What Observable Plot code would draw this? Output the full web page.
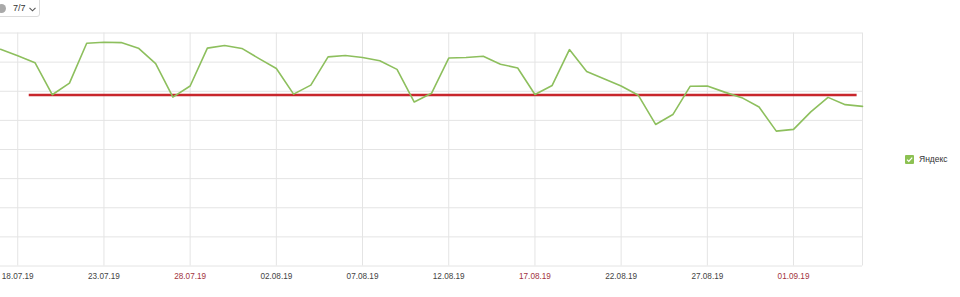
<!DOCTYPE html>
<html>
<head>
<meta charset="utf-8">
<script src="https://cdn.jsdelivr.net/npm/d3@7"></script>
<script src="https://cdn.jsdelivr.net/npm/@observablehq/plot@0.6"></script>
<style>
  html, body { margin: 0; padding: 0; background: #fff; }
  #wrap { position: relative; width: 960px; height: 297px; overflow: hidden; font-family: "Liberation Sans", Arial, sans-serif; }
  #chart { position: absolute; left: 0; top: 0; }
  #btn { position: absolute; left: -12px; top: -6px; width: 52px; height: 23px; border: 1px solid #dcdcdc; border-radius: 3px; background: #fff; box-sizing: border-box; }
  #btn .dot { position: absolute; left: 8px; top: 9px; width: 9px; height: 9px; border-radius: 50%; background: #a9a9a9; }
  #btn .lbl { position: absolute; left: 24px; top: 8px; font-size: 9px; line-height: 11px; color: #333; }
  #btn svg { position: absolute; left: 40px; top: 12px; }
  #legend { position: absolute; left: 905px; top: 154px; display: flex; align-items: center; font-size: 8.5px; color: #333; }
  #legend .box { width: 9px; height: 9px; background: #8cc152; border-radius: 1px; margin-right: 5px; position: relative; }
</style>
</head>
<body>
<div id="wrap">
  <div id="chart"></div>
  <div id="btn"><div class="dot"></div><div class="lbl">7/7</div>
    <svg width="7" height="5" viewBox="0 0 7 5"><polyline points="0.5,0.8 3.5,3.8 6.5,0.8" fill="none" stroke="#555" stroke-width="1.1"/></svg>
  </div>
  <div id="legend"><div class="box"><svg width="9" height="9" viewBox="0 0 9 9" style="position:absolute;left:0;top:0"><polyline points="2,4.6 3.8,6.4 7.2,2.6" fill="none" stroke="#fff" stroke-width="1.3"/></svg></div><span>Яндекс</span></div>
</div>
<script>
const dates = [
  "2019-07-17","2019-07-18","2019-07-19","2019-07-20","2019-07-21","2019-07-22","2019-07-23","2019-07-24",
  "2019-07-25","2019-07-26","2019-07-27","2019-07-28","2019-07-29","2019-07-30","2019-07-31",
  "2019-08-01","2019-08-02","2019-08-03","2019-08-04","2019-08-05","2019-08-06","2019-08-07","2019-08-08",
  "2019-08-09","2019-08-10","2019-08-11","2019-08-12","2019-08-13","2019-08-14","2019-08-15","2019-08-16",
  "2019-08-17","2019-08-18","2019-08-19","2019-08-20","2019-08-21","2019-08-22","2019-08-23","2019-08-24",
  "2019-08-25","2019-08-26","2019-08-27","2019-08-28","2019-08-29","2019-08-30","2019-08-31",
  "2019-09-01","2019-09-02","2019-09-03","2019-09-04","2019-09-05"
];
const yandex = [
  74.4, 72.2, 69.8, 58.8, 62.8, 76.5, 76.8, 76.7,
  74.8, 69.5, 58.0, 61.8, 74.8, 75.7, 74.7,
  71.2, 67.8, 59.0, 62.1, 71.8, 72.3, 71.6, 70.5,
  67.5, 56.3, 59.3, 71.4, 71.6, 72.0, 69.3, 68.0,
  58.9, 62.0, 74.3, 66.8, 64.3, 61.8, 58.6, 48.6,
  52.0, 61.7, 61.8, 59.7, 57.8, 54.6, 46.3,
  46.9, 52.9, 57.9, 55.4, 54.8
];
const averageValue = 58.7;
const averageFrom = "2019-07-18T16:00Z";
const averageTo = "2019-09-04T16:30Z";
const tickDates = ["2019-07-18","2019-07-23","2019-07-28","2019-08-02","2019-08-07","2019-08-12","2019-08-17","2019-08-22","2019-08-27","2019-09-01"];
const yTicks = [0, 10, 20, 30, 40, 50, 60, 70, 80];
const xDomain = ["2019-07-17", "2019-09-05"];

const parse = s => new Date(s);
const data = dates.map((d, i) => ({date: parse(d), value: yandex[i]}));
const ticks = tickDates.map(parse);
const fmt = d3.utcFormat("%d.%m.%y");
const isWeekend = d => { const w = d.getUTCDay(); return w === 0 || w === 6; };

const chart = Plot.plot({
  width: 960,
  height: 297,
  marginTop: 32.5,
  marginBottom: 31.5,
  marginLeft: 0,
  marginRight: 98,
  x: {type: "utc", domain: xDomain.map(parse), axis: null},
  y: {domain: [0, 80], axis: null},
  style: {fontFamily: "'Liberation Sans', Arial, sans-serif", background: "transparent", overflow: "visible"},
  marks: [
    Plot.ruleY(yTicks, {stroke: "#e4e4e4", strokeWidth: 1}),
    Plot.ruleX(ticks, {stroke: "#e4e4e4", strokeWidth: 1}),
    Plot.ruleX([parse(xDomain[1])], {stroke: "#e4e4e4", strokeWidth: 1}),
    Plot.ruleY([averageValue], {x1: parse(averageFrom), x2: parse(averageTo), stroke: "#c8262c", strokeWidth: 2.6}),
    Plot.line(data, {x: "date", y: "value", stroke: "#8dbf5d", strokeWidth: 1.6, curve: "linear"}),
    Plot.text(ticks, {
      x: d => d,
      frameAnchor: "bottom",
      dy: 10,
      text: d => fmt(d),
      fill: d => isWeekend(d) ? "#a23440" : "#444",
      fontSize: 8.2,
      textAnchor: "middle",
      lineAnchor: "middle"
    })
  ]
});
document.getElementById("chart").appendChild(chart);
</script>
</body>
</html>
